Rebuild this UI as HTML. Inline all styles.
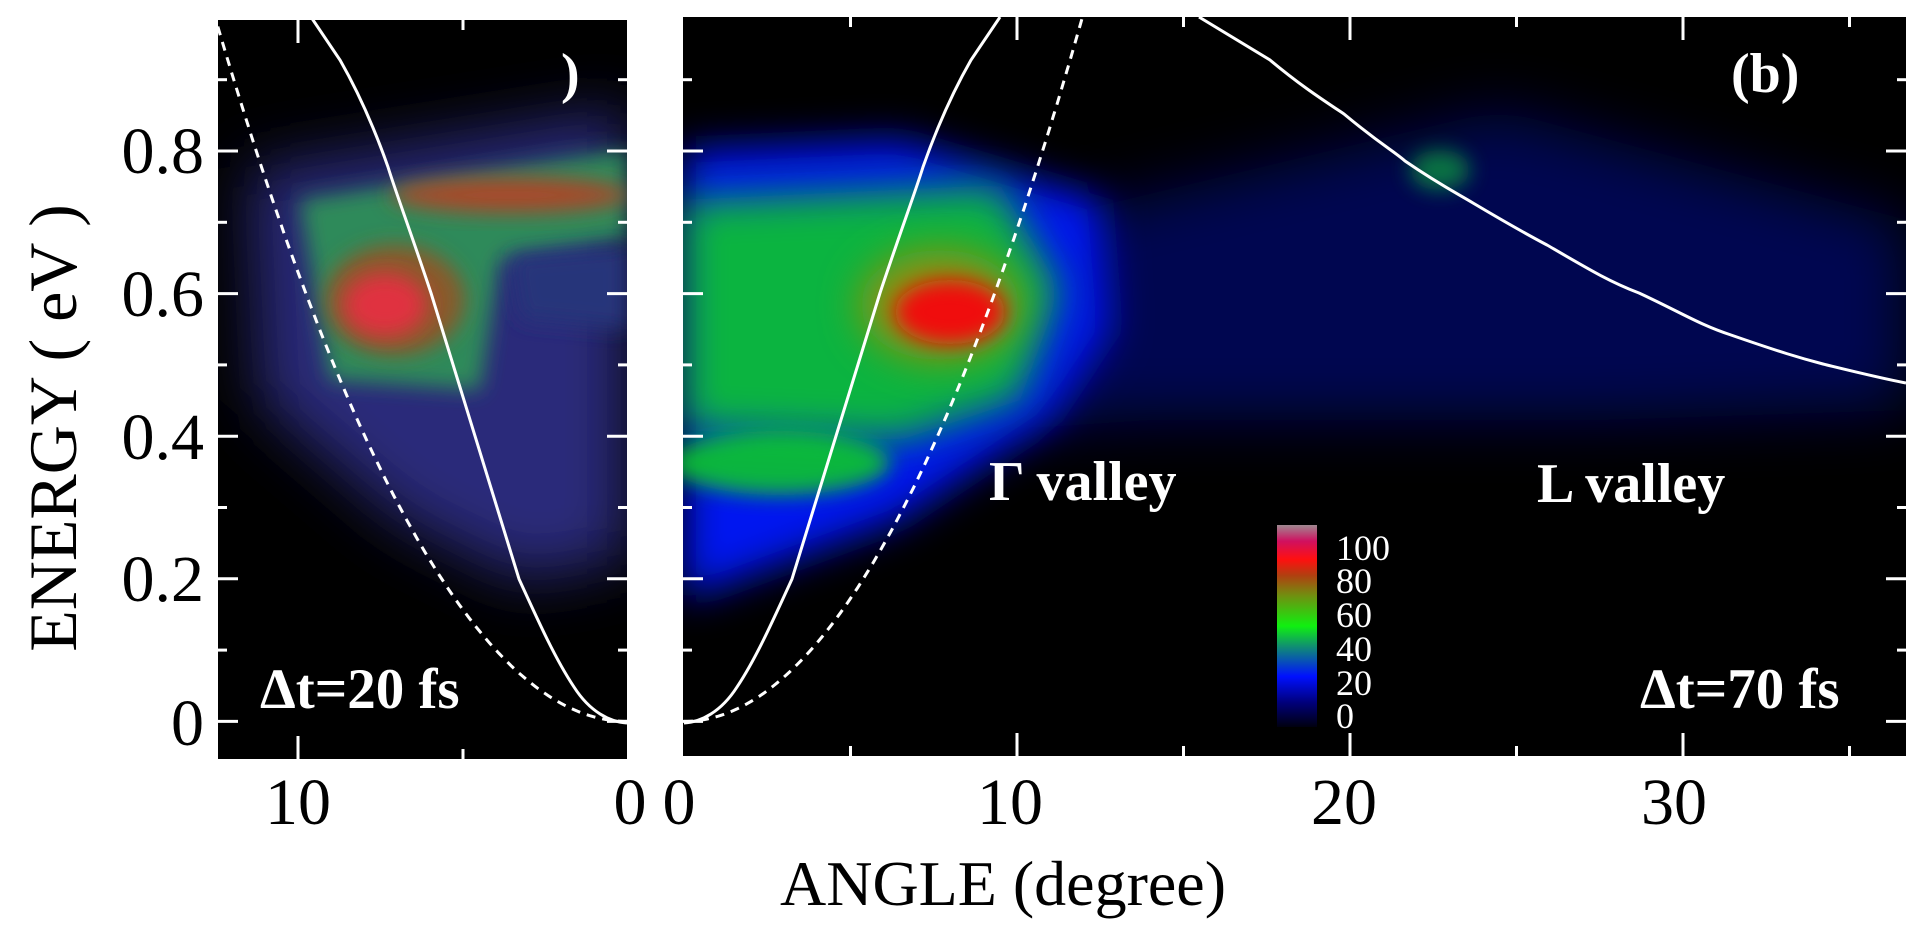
<!DOCTYPE html>
<html><head><meta charset="utf-8"><style>
html,body{margin:0;padding:0;background:#fff;}
svg{display:block;}
text{font-family:"Liberation Serif",serif;}
</style></head><body>
<svg id="root" width="1927" height="937" viewBox="0 0 1927 937" xmlns="http://www.w3.org/2000/svg">
<defs>
<filter id="b10" x="-50%" y="-50%" width="200%" height="200%"><feGaussianBlur stdDeviation="10"/></filter>
<filter id="b20" x="-50%" y="-50%" width="200%" height="200%"><feGaussianBlur stdDeviation="20"/></filter>
<filter id="b30" x="-50%" y="-50%" width="200%" height="200%"><feGaussianBlur stdDeviation="30"/></filter>
<clipPath id="ca"><rect x="218" y="20" width="409" height="739"/></clipPath>
<clipPath id="cb"><rect x="683" y="17" width="1223" height="739"/></clipPath>
<linearGradient id="cbar" x1="0" y1="1" x2="0" y2="0">
<stop offset="0" stop-color="#000010"/><stop offset="0.12" stop-color="#00007a"/><stop offset="0.25" stop-color="#0010ff"/>
<stop offset="0.4" stop-color="#109070"/><stop offset="0.5" stop-color="#10f010"/><stop offset="0.65" stop-color="#709010"/>
<stop offset="0.75" stop-color="#b04010"/><stop offset="0.83" stop-color="#ff1010"/><stop offset="0.92" stop-color="#d01060"/><stop offset="1" stop-color="#a08890"/>
</linearGradient>
</defs>
<!-- panel a -->
<rect x="218" y="20" width="409" height="739" fill="#000"/>
<g clip-path="url(#ca)">
<polygon points="250,170 627,110 627,560 520,580 400,520 260,400" fill="#2a2a7a" filter="url(#b30)"/>
<polygon points="300,200 627,150 627,240 500,260 480,390 330,380" fill="#2d8a5a" filter="url(#b10)"/>
<polygon points="510,255 627,245 627,330 520,320" fill="#25357a" filter="url(#b10)"/>
<ellipse cx="510" cy="195" rx="120" ry="18" fill="#a8482a" filter="url(#b10)"/>
<ellipse cx="395" cy="300" rx="70" ry="55" fill="#8a5a2a" filter="url(#b10)"/>
<ellipse cx="385" cy="305" rx="42" ry="32" fill="#e03040" filter="url(#b10)"/>
</g>
<!-- panel b -->
<rect x="683" y="17" width="1223" height="739" fill="#000"/>
<g clip-path="url(#cb)">
<polygon points="1000,230 1500,110 1906,220 1906,410 1600,420 1150,420 1000,430" fill="#0010a0" filter="url(#b30)" opacity="0.5"/>
<polygon points="683,150 900,140 1100,200 1110,330 1050,420 900,520 683,600" fill="#0018f0" filter="url(#b20)"/>
<polygon points="683,200 1000,185 1060,290 1020,400 900,440 683,430" fill="#10d020" filter="url(#b20)" opacity="0.85"/>
<ellipse cx="780" cy="463" rx="110" ry="32" fill="#10d020" filter="url(#b10)" opacity="0.85"/>
<ellipse cx="940" cy="305" rx="80" ry="55" fill="#909010" filter="url(#b20)"/>
<ellipse cx="950" cy="312" rx="55" ry="32" fill="#f01010" filter="url(#b10)"/>
<ellipse cx="1440" cy="170" rx="30" ry="20" fill="#10a040" filter="url(#b10)" opacity="0.7"/>
</g>
<!-- curves -->
<g fill="none" stroke="#fff" stroke-width="3">
<path d="M627,723 C610,722 590,712 574,687 C556,660 540,625 519,579 L431,293 C410,230 395,190 388,167 C375,130 360,95 340,60 L311,17" clip-path="url(#ca)"/>
<path d="M684,723 C701,722 721,712 737,687 C755,660 771,625 792,579 L880,293 C901,230 916,190 923,167 C936,130 951,95 971,60 L1000,17" clip-path="url(#cb)"/>
<path d="M1199,17 C1230,36 1250,48 1270,60 C1300,85 1320,98 1344,114 C1380,144 1395,152 1405,161 C1440,185 1460,195 1473,203 C1510,225 1530,236 1547,245 C1590,270 1610,282 1639,293 C1680,312 1700,325 1731,335 C1780,352 1800,358 1823,364 C1860,373 1880,378 1906,383" clip-path="url(#cb)"/>
</g>
<g fill="none" stroke="#fff" stroke-width="3" stroke-dasharray="9,7">
<path id="da" d="" clip-path="url(#ca)"/>
<path id="db" d="" clip-path="url(#cb)"/>
</g>
<g id="ticks" stroke="#fff" stroke-width="3"></g>
<!-- colorbar -->
<rect x="1277" y="525" width="40" height="202" fill="url(#cbar)"/>
<g fill="#fff" font-size="36">
<text x="1336" y="560">100</text><text x="1336" y="593">80</text><text x="1336" y="627">60</text>
<text x="1336" y="661">40</text><text x="1336" y="695">20</text><text x="1336" y="728">0</text>
</g>
<g fill="#fff" font-weight="bold">
<text x="260" y="708" font-size="57">Δt=20 fs</text>
<text x="1640" y="708" font-size="57">Δt=70 fs</text>
<text x="989" y="500" font-size="56">Γ valley</text>
<text x="1537" y="502" font-size="56">L valley</text>
<text x="1731" y="92" font-size="56">(b)</text>
<text x="561" y="92" font-size="56">)</text>
</g>
<g fill="#000" font-size="66" text-anchor="end">
<text x="204" y="173">0.8</text><text x="204" y="316">0.6</text><text x="204" y="459">0.4</text>
<text x="204" y="601">0.2</text><text x="204" y="745">0</text>
</g>
<g fill="#000" font-size="66" text-anchor="middle">
<text x="298" y="824">10</text><text x="630" y="824">0</text><text x="679" y="824">0</text>
<text x="1010" y="824">10</text><text x="1344" y="824">20</text><text x="1674" y="824">30</text>
</g>
<text x="1003" y="905" font-size="64" text-anchor="middle" fill="#000">ANGLE  (degree)</text>
<text transform="translate(76,428) rotate(-90)" font-size="68" text-anchor="middle" fill="#000">ENERGY ( eV )</text>
</svg>
<script>
(function(){
var NS="http://www.w3.org/2000/svg";
function Y(E){return 151+(0.8-E)*713;}
var s="";for(var t=0;t<=13;t+=0.1){var x=627-t*32.9,y=Y(0.0063*t*t);s+=(t?"L":"M")+x.toFixed(1)+","+y.toFixed(1);}
document.getElementById("da").setAttribute("d",s);
s="";for(var t=0;t<=13;t+=0.1){var x=684+t*33.3,y=Y(0.0069*t*t);s+=(t?"L":"M")+x.toFixed(1)+","+y.toFixed(1);}
document.getElementById("db").setAttribute("d",s);
var g=document.getElementById("ticks");
function L(a,b,c,d){var l=document.createElementNS(NS,"line");l.setAttribute("x1",a);l.setAttribute("y1",b);l.setAttribute("x2",c);l.setAttribute("y2",d);g.appendChild(l);}
for(var i=0;i<=9;i++){var y=Y(i/10),len=(i%2==0)?20:9;
L(218,y,218+len,y);L(627,y,627-len,y);L(683,y,683+len,y);L(1906,y,1906-len,y);}
[[298,1],[463,0]].forEach(function(p){var l=p[1]?23:10;L(p[0],759,p[0],759-l);L(p[0],20,p[0],20+l);});
for(var k=1;k<=7;k++){var x=684+k*5*33.3,l=(k%2==0)?23:10;L(x,756,x,756-l);L(x,17,x,17+l);}
})();
</script>
</body></html>
